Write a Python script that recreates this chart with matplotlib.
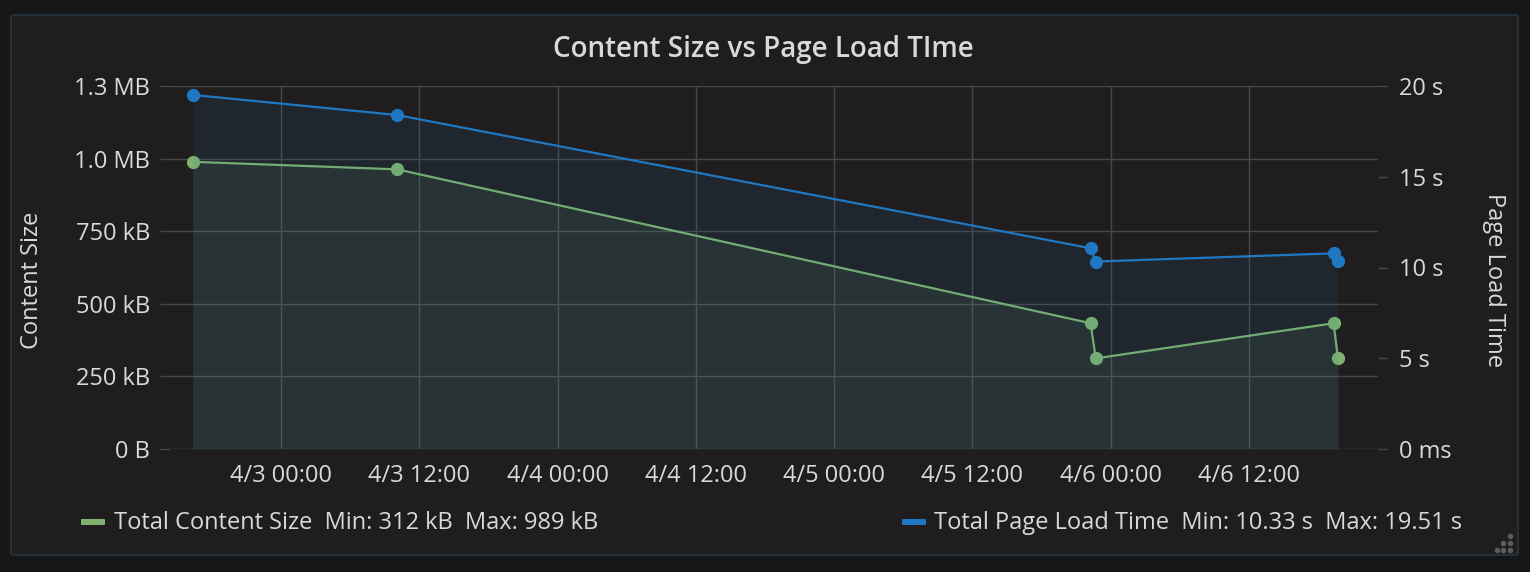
import matplotlib
matplotlib.use("Agg")
import matplotlib.pyplot as plt
from matplotlib.patches import FancyBboxPatch
from matplotlib.lines import Line2D
from datetime import datetime, timedelta

# ---- data ----
times = ["2017-04-02 16:20", "2017-04-03 10:05", "2017-04-05 22:15",
         "2017-04-05 22:42", "2017-04-06 19:20", "2017-04-06 19:43"]
content_kb = [989, 963, 433, 312, 433, 312]
load_s = [19.51, 18.40, 11.06, 10.33, 10.78, 10.38]

left_ticks = [0, 250, 500, 750, 1000, 1250]
left_labels = ["0 B", "250 kB", "500 kB", "750 kB", "1.0 MB", "1.3 MB"]
right_ticks = [0, 5, 10, 15, 20]
right_labels = ["0 ms", "5 s", "10 s", "15 s", "20 s"]
x_ticks = ["2017-04-03 00:00", "2017-04-03 12:00", "2017-04-04 00:00", "2017-04-04 12:00",
           "2017-04-05 00:00", "2017-04-05 12:00", "2017-04-06 00:00", "2017-04-06 12:00"]
x_labels = ["4/3 00:00", "4/3 12:00", "4/4 00:00", "4/4 12:00",
            "4/5 00:00", "4/5 12:00", "4/6 00:00", "4/6 12:00"]

title = "Content Size vs Page Load TIme"
green_name = "Total Content Size"
blue_name = "Total Page Load Time"
green_stats = "Min: 312 kB  Max: 989 kB"
blue_stats = "Min: 10.33 s  Max: 19.51 s"

GREEN = "#7eb26d"
BLUE = "#1f78c1"
PANEL = "#1f1d1d"
OUTER = "#161616"
TEXT = "#d8d9da"
GRID = "#484848"
FS = 17

plt.rcParams["font.family"] = ["Open Sans", "DejaVu Sans"]

W, H = 1530, 572
fig = plt.figure(figsize=(W / 100, H / 100), dpi=100, facecolor=OUTER)

def fx(px):
    return px / W

def fy(py):
    return 1 - py / H

# panel
panel = FancyBboxPatch((fx(11), fy(555)), fx(1518) - fx(11), fy(15) - fy(555),
                       boxstyle="round,pad=0,rounding_size=0.003",
                       transform=fig.transFigure, facecolor=PANEL,
                       edgecolor="#25303a", linewidth=1.5, zorder=-5)
fig.patches.append(panel)

t = [datetime.strptime(s, "%Y-%m-%d %H:%M") for s in times]
xt = [datetime.strptime(s, "%Y-%m-%d %H:%M") for s in x_ticks]

ax = fig.add_axes([fx(170), fy(449), fx(1378) - fx(170), fy(86) - fy(449)])
ax.set_facecolor("none")
ax2 = ax.twinx()
ax2.set_facecolor("none")

x0 = xt[0] - timedelta(hours=9.63)
x1 = x0 + timedelta(hours=104.82)
ax.set_xlim(x0, x1)
ax.set_ylim(0, 1250)
ax2.set_ylim(0, 20)

# fills
ax2.fill_between(t, load_s, 0, color=BLUE, alpha=0.10, linewidth=0, zorder=1)
ax.fill_between(t, content_kb, 0, color=GREEN, alpha=0.10, linewidth=0, zorder=1)

ax.plot(t, content_kb, color=GREEN, lw=1.6, marker="o", ms=8.5, mec=GREEN, zorder=3)
ax2.plot(t, load_s, color=BLUE, lw=1.6, marker="o", ms=8.5, mec=BLUE, zorder=3)

ax.set_yticks(left_ticks)
ax.set_yticklabels(left_labels)
ax2.set_yticks(right_ticks)
ax2.set_yticklabels(right_labels)
ax.set_xticks(xt)
ax.set_xticklabels(x_labels)

ax.grid(True, color=GRID, lw=1)
ax.set_axisbelow(True)
for a in (ax, ax2):
    for s in a.spines.values():
        s.set_visible(False)

ax.tick_params(axis="y", colors=GRID, labelcolor=TEXT, labelsize=FS, length=7.2, width=1, pad=7)
ax.tick_params(axis="x", labelcolor=TEXT, labelsize=FS, length=0, pad=11)
ax2.tick_params(axis="y", colors=GRID, labelcolor=TEXT, labelsize=FS, length=7.2, width=1, pad=8)

fig.text(fx(32), fy(280), "Content Size", rotation=90, color=TEXT, fontsize=FS,
         ha="center", va="center")
fig.text(fx(1494), fy(280), "Page Load Time", rotation=270, color=TEXT, fontsize=FS,
         ha="center", va="center")

fig.text(fx(763), fy(50), title, color=TEXT, fontsize=20, fontweight="semibold",
         ha="center", va="center")

# legend
for (sx, tx, col, name, stats) in [(81, 114, GREEN, green_name, green_stats),
                                   (902, 934, BLUE, blue_name, blue_stats)]:
    sw = FancyBboxPatch((fx(sx), fy(525)), fx(sx + 24) - fx(sx), fy(519) - fy(525),
                        boxstyle="round,pad=0,rounding_size=0.001",
                        transform=fig.transFigure, facecolor=col, edgecolor="none")
    fig.patches.append(sw)
    fig.text(fx(tx), fy(523), name + "  " + stats, color=TEXT, fontsize=FS,
             ha="left", va="center")

# resize handle dots
dots_x = [1497, 1503, 1510, 1503, 1510, 1510]
dots_y = [550, 550, 550, 543, 543, 536]
fig.add_artist(Line2D([fx(v) for v in dots_x], [fy(v) for v in dots_y], ls="none",
                      marker="o", ms=4, mfc="#5c5c5c", mec="none",
                      transform=fig.transFigure))

fig.savefig("out.png", dpi=100, facecolor=OUTER)
